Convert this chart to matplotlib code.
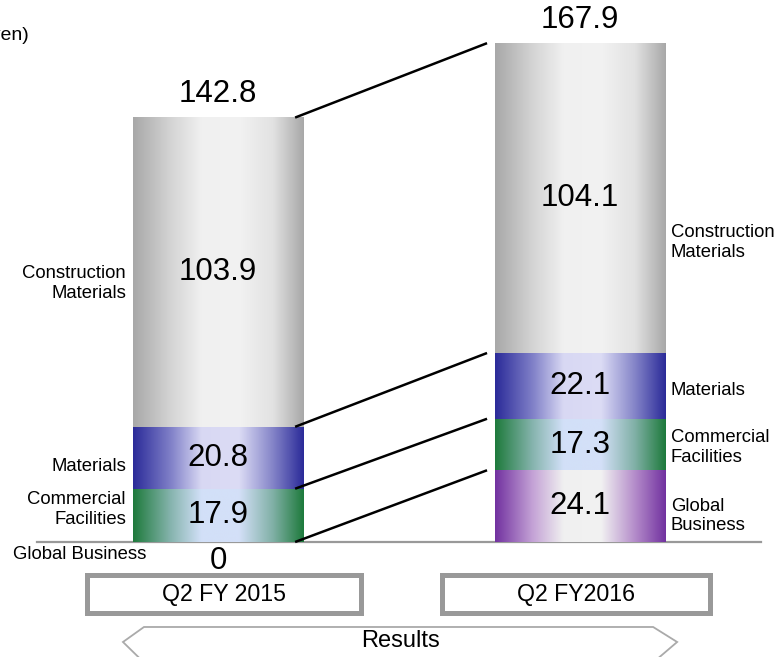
import numpy as np
import matplotlib.pyplot as plt
from matplotlib.colors import LinearSegmentedColormap
from matplotlib.patches import Rectangle, Polygon

plt.rcParams['font.family'] = ['Liberation Sans', 'DejaVu Sans']

#-- data (billions of yen) --
periods = ['Q2 FY 2015', 'Q2 FY2016']
segments = ['Global Business', 'Commercial Facilities', 'Materials', 'Construction Materials']
vals_2015 = [0.0, 17.9, 20.8, 103.9]
vals_2016 = [24.1, 17.3, 22.1, 104.1]
totals = [142.8, 167.9]

left_names = ['Global Business', 'Commercial\nFacilities', 'Materials', 'Construction\nMaterials']
right_names = ['Global\nBusiness', 'Commercial\nFacilities', 'Materials', 'Construction\nMaterials']

#-- cylinder-like shading per segment --
shade = {
    'Construction Materials': ['#a8a8a8', '#d4d4d4', '#f0f0f0', '#f2f2f2', '#e2e2e2', '#a8a8a8'],
    'Materials':              ['#2b2b99', '#8080c8', '#d8d8f3', '#dcdcf5', '#8484c8', '#2b2b99'],
    'Commercial Facilities':  ['#1e7a3c', '#86b4ae', '#d2e0f8', '#d4e0f8', '#80b0a6', '#1e7a3c'],
    'Global Business':        ['#7232a0', '#c4a2d6', '#f0f0f0', '#f2f2f2', '#b48cca', '#7232a0'],
}
stops = [0.0, 0.22, 0.4, 0.62, 0.82, 1.0]
cmaps = {k: LinearSegmentedColormap.from_list(k, list(zip(stops, c))) for k, c in shade.items()}
grad = np.linspace(0, 1, 256)[np.newaxis, :]

fig = plt.figure(figsize=(7.76, 6.57), dpi=100)
ax = fig.add_axes([0, 0, 1, 1])
ax.axis('off')

xpos = [0, 1]
w = 0.47
fs_val = 22.5
fs_name = 13.3

#-- baseline --
ax.plot([-0.5, 1.5], [0, 0], color='#999999', lw=1.6, zorder=1)

#-- stacked bars --
cums = []
for i, vals in enumerate([vals_2015, vals_2016]):
    bottom = 0.0
    cum = [0.0]
    for seg, v in zip(segments, vals):
        if v > 0:
            ax.imshow(grad, cmap=cmaps[seg], aspect='auto', interpolation='bicubic',
                      extent=[xpos[i] - w/2, xpos[i] + w/2, bottom, bottom + v], zorder=2)
        bottom += v
        cum.append(bottom)
    cums.append(cum)
    # value labels
    for k, v in enumerate(vals):
        if v > 0:
            ax.text(xpos[i], cum[k] + v/2, f'{v:.1f}', ha='center', va='center',
                    fontsize=fs_val, zorder=4)
        else:
            ax.annotate(f'{v:.0f}', (xpos[i], cum[k]), xytext=(0, -3), textcoords='offset points',
                        ha='center', va='top', fontsize=fs_val)
    ax.annotate(f'{totals[i]:.1f}', (xpos[i], cum[-1]), xytext=(0, 6), textcoords='offset points',
                ha='center', va='bottom', fontsize=fs_val)

ax.set_xlim(-0.602, 1.541)
ax.set_ylim(-38.64, 182.1)

#-- connectors between segment tops of the two stacks --
for k in range(1, len(segments) + 1):
    ax.plot([xpos[0] + w/2 - 0.022, xpos[1] - w/2 - 0.022],
            [cums[0][k], cums[1][k]],
            color='black', lw=1.8, zorder=3, solid_capstyle='butt')

#-- segment names, left of first bar --
left_nudge = [0, 4, -6, -8]
for k, name in enumerate(left_names):
    v = vals_2015[k]
    if v > 0:
        ax.annotate(name, (xpos[0] - w/2, cums[0][k] + v/2), xytext=(-5, left_nudge[k]),
                    textcoords='offset points', ha='right', va='center', fontsize=fs_name,
                    multialignment='right')
    else:
        ax.annotate(name, (xpos[0] - w/2, cums[0][k]), xytext=(10, -3),
                    textcoords='offset points', ha='right', va='top', fontsize=fs_name)

#-- segment names, right of second bar --
right_nudge = [-7, -2, -3, -32]
for k, name in enumerate(right_names):
    v = vals_2016[k]
    ax.annotate(name, (xpos[1] + w/2, cums[1][k] + v/2), xytext=(4, right_nudge[k]),
                textcoords='offset points', ha='left', va='center', fontsize=fs_name)

#-- period boxes --
box_x = [(-0.3605, 0.3936), (0.620, 1.360)]
for (x0, x1), lab in zip(box_x, periods):
    ax.add_patch(Rectangle((x0, -23.69), x1 - x0, 12.44, facecolor='white',
                           edgecolor='#999999', lw=3.6, zorder=3))
    ax.text((x0 + x1) / 2, -17.6, lab, ha='center', va='center', fontsize=16.7, zorder=4)

#-- "Results" arrow --
arrow = Polygon([(-0.2624, -33.6), (-0.2044, -28.56), (1.2017, -28.56), (1.268, -33.6),
                 (1.2017, -40.5), (-0.2044, -40.5)], closed=True, facecolor='white',
                edgecolor='#aaaaaa', lw=1.3, zorder=3)
ax.add_patch(arrow)
ax.text(0.503, -33.4, 'Results', ha='center', va='center', fontsize=17, zorder=4)

fig.text(29/776, 1 - 35/657, '(Billions of yen)', ha='right', va='center', fontsize=14)

fig.savefig('out.png', dpi=100)
